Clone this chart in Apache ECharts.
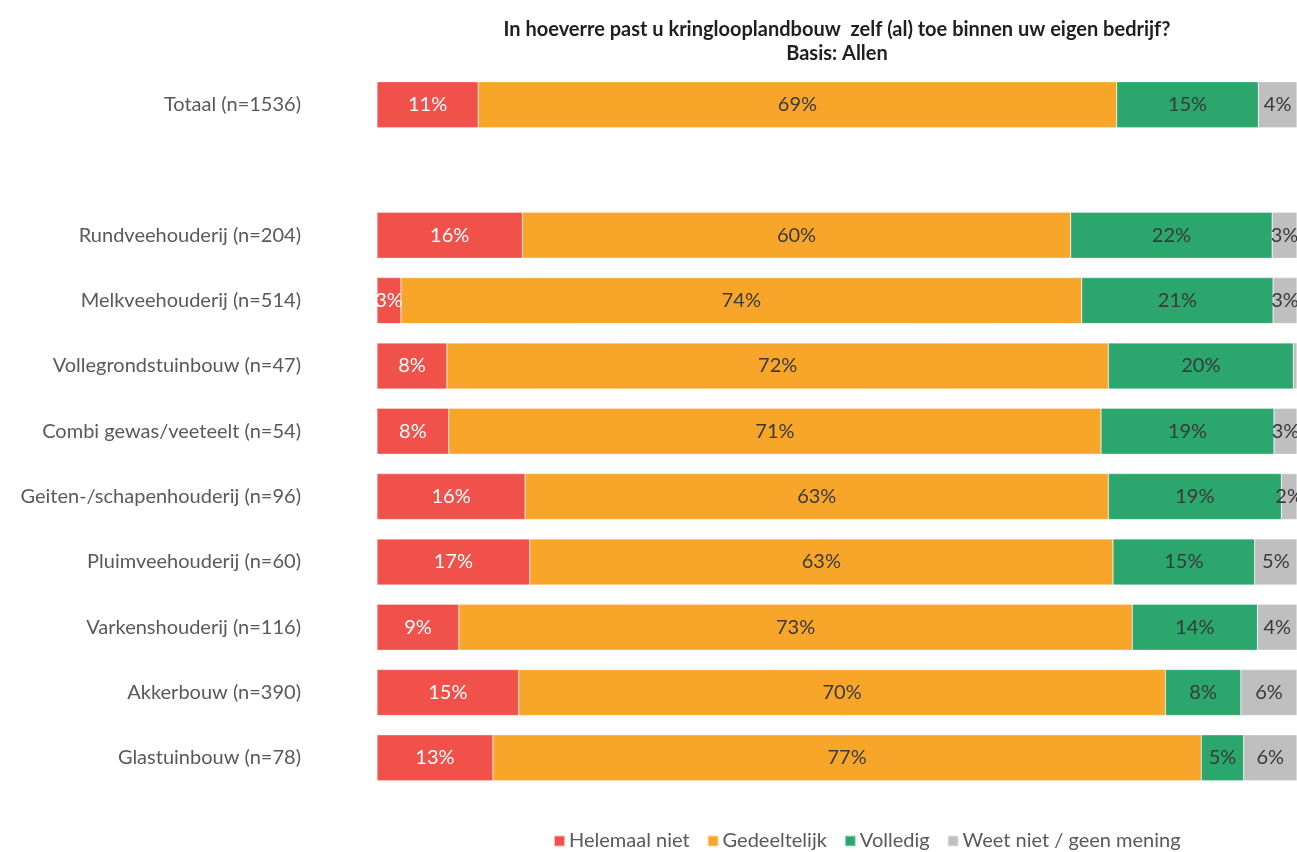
<!DOCTYPE html>
<html>
<head>
<meta charset="utf-8">
<script src="https://cdn.jsdelivr.net/npm/echarts@6/dist/echarts.min.js"></script>
<style>
html,body{margin:0;padding:0;background:#fff;}
#chart{width:1297px;height:852px;}
</style>
</head>
<body>
<div id="chart"></div>
<script>
const categories = [
  'Totaal (n=1536)', '',
  'Rundveehouderij (n=204)', 'Melkveehouderij (n=514)', 'Vollegrondstuinbouw (n=47)',
  'Combi gewas/veeteelt (n=54)', 'Geiten-/schapenhouderij (n=96)', 'Pluimveehouderij (n=60)',
  'Varkenshouderij (n=116)', 'Akkerbouw (n=390)', 'Glastuinbouw (n=78)'
];
const seriesNames = ['Helemaal niet', 'Gedeeltelijk', 'Volledig', 'Weet niet / geen mening'];
const helemaalNiet = [11.0, null, 15.8, 2.6, 7.6, 7.8, 16.1, 16.6, 8.9, 15.4, 12.6];
const gedeeltelijk = [69.4, null, 59.6, 74.0, 71.9, 70.9, 63.4, 63.4, 73.2, 70.3, 77.0];
const volledig     = [15.4, null, 21.9, 20.8, 20.1, 18.8, 18.8, 15.4, 13.6, 8.2, 4.6];
const weetNiet     = [4.2, null, 2.7, 2.6, 0.4, 2.5, 1.7, 4.6, 4.3, 6.1, 5.8];
const titleLines = ['In hoeverre past u kringlooplandbouw  zelf (al) toe binnen uw eigen bedrijf?', 'Basis: Allen'];

const colors = ['#F0524B', '#F8A62A', '#2BA66C', '#BFBFBF'];
const labelColors = ['#ffffff', '#3a3a3a', '#3a3a3a', '#3a3a3a'];
const FONT = 'Lato';
const values = [helemaalNiet, gedeeltelijk, volledig, weetNiet];

const chart = echarts.init(document.getElementById('chart'));
chart.setOption({
  backgroundColor: '#ffffff',
  animation: false,
  title: {
    text: titleLines.join('\n'),
    left: 832, top: 13, textAlign: 'center',
    textStyle: {fontFamily: FONT, fontSize: 20, fontWeight: 'bold', color: '#1f1f1f', lineHeight: 24}
  },
  legend: {
    data: seriesNames,
    left: 548, top: 826,
    itemWidth: 11, itemHeight: 11, itemGap: 17,
    icon: 'rect',
    textStyle: {fontFamily: FONT, fontSize: 20, color: '#595959', padding: [0, 0, 0, -1]}
  },
  grid: {left: 377, right: 0, top: 72, height: 718.5, containLabel: false},
  xAxis: {type: 'value', min: 0, max: 100, show: false},
  yAxis: {
    type: 'category', data: categories, inverse: true,
    axisLine: {show: false}, axisTick: {show: false},
    axisLabel: {fontFamily: FONT, fontSize: 20, color: '#595959', margin: 76}
  },
  series: values.map((arr, i) => ({
    name: seriesNames[i], type: 'bar', stack: 'total', data: arr,
    barWidth: 46,
    itemStyle: {color: colors[i], borderColor: 'rgba(255,255,255,0.6)', borderWidth: 0.5},
    label: {
      show: true, position: 'inside',
      fontFamily: FONT, fontSize: 20, color: labelColors[i],
      formatter: p => (p.value == null || p.value < 1) ? '' : Math.round(p.value) + '%'
    }
  }))
});
</script>
</body>
</html>
